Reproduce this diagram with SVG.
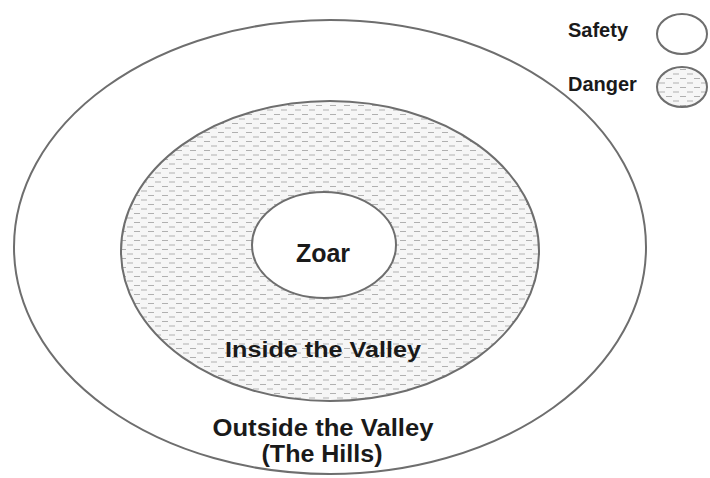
<svg xmlns="http://www.w3.org/2000/svg" width="710" height="478" viewBox="0 0 710 478">
<style>
.ring{stroke:#6e6e6e;stroke-width:2;}
.safe{fill:#fff;}
.danger{fill:url(#dash);}
.lbl{font-family:"Liberation Sans",Arial,sans-serif;font-weight:bold;fill:#1a1a1a;text-anchor:middle;}
.leg{font-family:"Liberation Sans",Arial,sans-serif;font-weight:bold;fill:#1a1a1a;font-size:20px;}
</style>
<defs>
<pattern id="dash" width="14" height="9" patternUnits="userSpaceOnUse">
<rect width="14" height="9" fill="#f6f6f6"/>
<line x1="1" y1="2" x2="7" y2="2" stroke="#b0b0b0" stroke-width="1"/>
<line x1="8" y1="6.5" x2="14" y2="6.5" stroke="#b0b0b0" stroke-width="1"/>
</pattern>
</defs>
<rect width="710" height="478" fill="#fff"/>
<g id="outside">
<ellipse class="ring safe" cx="330" cy="247" rx="316" ry="227"/>
<text class="lbl" x="323" y="436" font-size="23" textLength="221" lengthAdjust="spacingAndGlyphs">Outside the Valley</text>
<text class="lbl" x="322" y="462" font-size="23" textLength="121" lengthAdjust="spacingAndGlyphs">(The Hills)</text>
</g>
<g id="inside">
<ellipse class="ring danger" cx="330" cy="251" rx="209" ry="150"/>
<text class="lbl" x="323" y="357" font-size="22" textLength="196" lengthAdjust="spacingAndGlyphs">Inside the Valley</text>
</g>
<g id="zoar">
<ellipse class="ring safe" cx="324" cy="245" rx="72" ry="53"/>
<text class="lbl" x="323" y="262" font-size="25">Zoar</text>
</g>
<g id="legend-safety">
<text class="leg" x="568" y="37">Safety</text>
<ellipse class="ring safe" cx="682" cy="34" rx="25" ry="20"/>
</g>
<g id="legend-danger">
<text class="leg" x="568" y="91">Danger</text>
<ellipse class="ring danger" cx="682" cy="87" rx="25" ry="20"/>
</g>
<g id="connectors"></g>
</svg>
